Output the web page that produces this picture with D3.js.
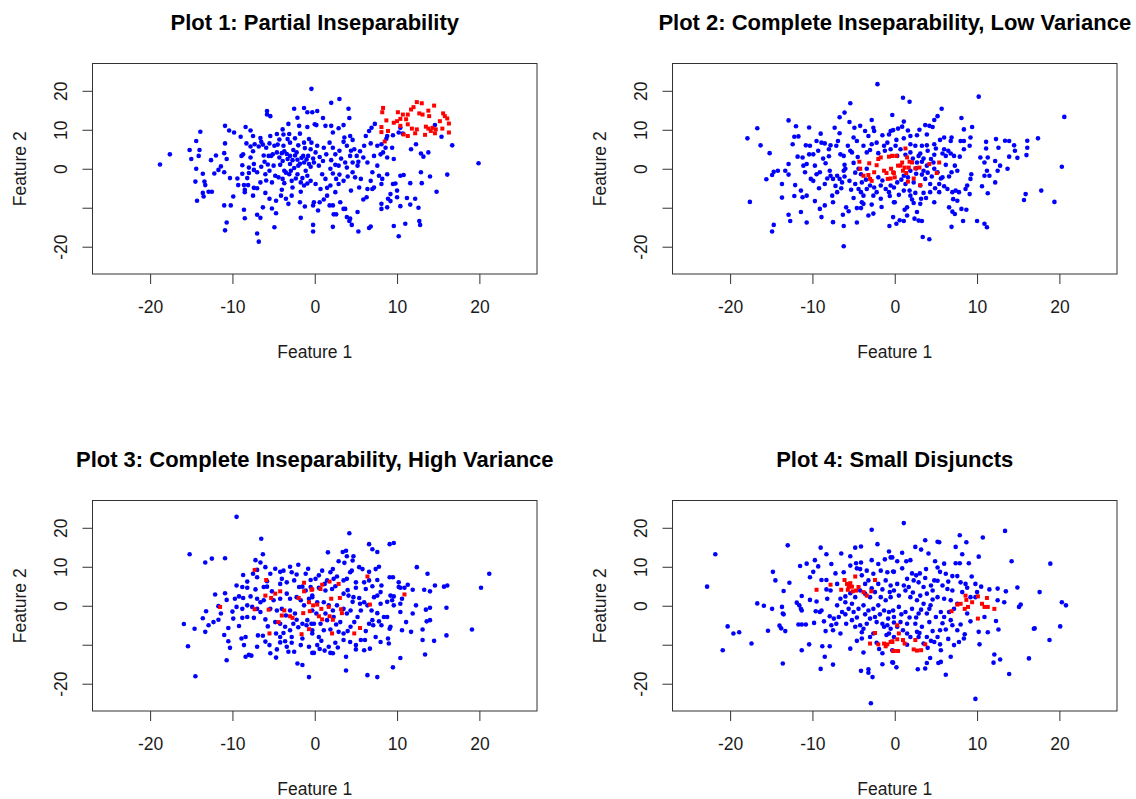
<!doctype html>
<html lang="en">
<head>
<meta charset="utf-8">
<script src="https://d3js.org/d3.v7.min.js"></script>
<style>
  body { margin: 0; background: #fff; }
  svg text { font-family: "Liberation Sans", Arial, sans-serif; fill: #1a1a1a; }
</style>
</head>
<body>
<script>
// values, [feature1, feature2]
var titles = ["Plot 1: Partial Inseparability",
              "Plot 2: Complete Inseparability, Low Variance",
              "Plot 3: Complete Inseparability, High Variance",
              "Plot 4: Small Disjuncts"];
var tickValues = [-20, -10, 0, 10, 20];
var xTickLabels = ["-20", "-10", "0", "10", "20"];
var yTickLabels = ["-20", "", "0", "10", "20"];

var plot1Blue = [[-18.8,1.1],[-17.6,3.7],[-15.2,4.8],[-15.0,2.5],[-14.4,7.1],[-13.9,9.5],[-14.0,4.8],[-14.1,3.3],[-14.4,0],[-14.5,-3.3],[-14.3,-8.2],[-13.4,-3.3],[-13.3,-4.2],[-13.6,-1.3],[-13.6,-6.2],[-13.5,-7.1],[-12.9,-5.9],[-12.5,-5.9],[-12.6,2.2],[-12.0,3.4],[-12.2,-1.2],[-11.7,-0.3],[-11.4,0.6],[-10.9,11],[-10.9,6.5],[-11.0,4.0],[-10.7,2.5],[-11.0,-0.9],[-10.3,-2.4],[-10.4,9.8],[-9.8,9.3],[-11.0,-9.4],[-10.2,-9.4],[-9.9,-7.1],[-10.7,-13.8],[-10.9,-15.8],[-9.3,-4.2],[-9.0,8.2],[-8.9,3.3],[-8.7,3.7],[-8.8,0.9],[-8.8,-1.3],[-8.6,-4.2],[-8.4,10.7],[-8.3,6.5],[-8.5,-5.4],[-8.5,-6.0],[-8.0,-1.1],[-8.2,-2.4],[-8.1,-4.2],[-8.6,-10.5],[-8.5,-12.7],[-7.8,9.8],[-7.5,8.4],[-7.8,5.7],[-7.5,4.5],[-7.8,2.9],[-7.4,1.2],[-7.4,-0.3],[-7.4,-4.9],[-7.5,-6.9],[-7.3,6.3],[-6.8,5.7],[-6.6,7.9],[-6.5,6.9],[-7.0,-0.9],[-6.6,-3.5],[-7.0,-5.0],[-7.0,-11.8],[-6.6,-12.6],[-7.0,-16.6],[-6.8,-18.7],[-6.3,-9.9],[-5.8,14.8],[-5.8,13.9],[-5.4,13.5],[-6.2,3.4],[-5.9,5.4],[-5.6,3.3],[-6.1,1.8],[-5.7,1.1],[-6.0,-1.4],[-5.9,-3.0],[-5.4,8.4],[-5.3,3.3],[-5.1,3.7],[-5.0,0.8],[-5.2,-3.5],[-4.9,5.9],[-4.8,-1.8],[-4.7,-8.2],[-4.7,-11.4],[-4.9,-15.0],[-5.2,-10.2],[-4.6,4.2],[-4.3,2.9],[-4.6,8.9],[-4.3,7.5],[-3.9,10.1],[-3.8,8.8],[-3.8,5.9],[-3.7,4.5],[-3.9,2.0],[-3.7,-0.5],[-3.9,-2.6],[-3.7,-3.7],[-4.0,-5.4],[-4.1,-6.9],[-3.5,-7.7],[-3.2,11.5],[-3.1,8.9],[-3.0,6.7],[-3.0,3.3],[-3.0,1.2],[-3.1,-1.4],[-2.8,-3.1],[-2.7,-4.8],[-2.8,-6.9],[-2.5,15.4],[-2.6,4.8],[-2.5,0.2],[-2.1,13.1],[-1.9,11],[-1.8,9.0],[-2.0,6.0],[-2.2,4.2],[-2.1,2.3],[-2.0,0.8],[-2.1,-1.4],[-1.7,-3.5],[-1.7,-5.9],[-1.8,-8.6],[-1.7,-12.6],[-1.3,15.6],[-1.3,6.7],[-1.4,3.3],[-1.3,1.6],[-1.1,-0.5],[-1.3,-4.3],[-1.2,-9.7],[-0.9,14.5],[-0.9,10.7],[-0.7,7.6],[-0.5,5.0],[-0.8,3.3],[-0.7,1.2],[-0.9,-1.8],[-0.5,-3.1],[-0.4,20.5],[-0.3,14.5],[-0.2,-9.4],[-0.2,-14.4],[-0.2,-16.1],[-0.1,-8.6],[0,11.4],
  [0.3,14.8],[0.2,11.2],[2.0,16.9],[3.0,17.9],[4.1,15.4],[4.2,13.0],[1.0,13.0],[1.3,11],[2.0,11],[2.2,9.3],[2.9,10.4],[3.5,11.2],[-0.4,6.7],[0.3,5.9],[0.1,4.2],[1.1,5.4],[1.4,3.7],[1.8,6.7],[2.2,5.4],[2.5,3.7],[3.0,4.6],[3.5,6.9],[3.9,5.9],[4.3,8.4],[4.6,7.4],[4.8,5.0],[4.3,3.3],[3.7,1.6],[4.6,1.6],[5.1,3.3],[5.2,0.8],[6.0,5.9],[6.2,8.4],[6.6,9.7],[6.9,10.5],[7.3,11.5],[5.9,2.9],[6.4,1.6],[7.2,3.3],[7.6,5.9],[8.0,3.7],[8.3,4.2],[8.6,5.4],[8.8,2.9],[9.4,5.4],[8.8,8.4],[7.6,0.8],[7.8,-1.8],[8.2,-2.6],[8.1,-3.9],[8.8,-1.4],[9.5,-3.9],[9.8,-3.8],[10.0,-5.6],[10.4,-1.8],[10.8,-1.6],[11.6,-3.7],[12.9,-0.9],[13.0,-3.7],[14.0,-2.0],[14.8,-5.9],[16.1,-1.5],[19.9,1.4],[16.7,6.0],[15.4,8.2],[14.6,11.2],[13.8,4.2],[13.2,3.1],[12.9,3.9],[12.3,6.3],[11.7,5.0],[10.7,9.0],[10.2,9.3],[10.4,10.5],[9.5,8.6],[9.2,-6.5],[8.9,-7.7],[8.1,-9.0],[8.1,-10.3],[8.8,-9.9],[9.2,-8.3],[10.0,-7.3],[10.4,-9.6],[11.2,-7.5],[11.6,-9.2],[12.2,-7.7],[12.6,-10.0],[12.7,-13.4],[12.8,-14.4],[11.0,-14.1],[9.6,-14.7],[10.2,-17.3],[6.8,-14.8],[6.6,-15.2],[5.3,-16.1],[4.5,-14.4],[4.2,-13.4],[3.9,-12.4],[4.3,-12.8],[2.6,-11.7],[2.3,-11.7],[2.2,-14.9],[1.8,-9.4],[2.2,-9.4],[3.5,-10.3],[3.7,-10.3],[3.1,-8.6],[5.2,-11.1],[0.4,-10.7],[0.6,-8.6],[1.1,-7.9],[1.5,-6.9],[2.5,-6.0],[1.9,-4.3],[2.9,-3.9],[3.5,-3.1],[4.4,-5.6],[5.4,-4.8],[5.9,-7.9],[6.3,-7.3],[7.0,-5.2],[6.8,-3.1],[7.2,-4.8],[5.6,-2.6],[4.6,-0.9],[3.9,0.3],[2.9,0.8],[1.9,0],[0.9,-1.4],[0.1,-3.9],[0.7,-5.2],[1.3,-2.6],[-0.1,1.6],[0.5,0.8],[8.1,6.3],[8.7,7.7],[7.0,-0.9],[6.4,-5.2],[9.6,2.5],
  [-6.3,6.2],[-5.5,6.5],[-4.5,6.2],[-4.0,4.0],[-3.4,3.8],[-3.3,2.5],[-2.7,2.2],[-2.4,3.4],[-1.8,1.3],[-1.6,2.8],[-1.0,2.4],[-0.5,0.5],[-0.2,2.6],[-3.5,-1.0],[-2.9,-0.5],[-2.3,-2.5],[-1.5,-2.4],[-0.9,-3.8],[-4.4,-2.2],[-5.5,-0.5],[-6.5,0.5],[-4.2,1.0],[-3.3,7.6],[-2.4,7.8],[-1.2,5.3],[0.6,3.0],[1.0,2.0],[2.0,2.2],[2.5,1.0],[3.2,2.6],[3.0,-1.5],[2.2,-1.2],[1.5,-4.9],[2.6,-2.6],[4.0,-2.0],[4.9,-2.2],[5.3,1.8],[5.5,4.5],[4.4,4.6],[3.6,8.0],[6.8,6.5],[-8.0,0.3],[-9.4,-2.5],[-6.0,-6.2],[-5.5,-7.7],[-3.2,-9.0]];

var plot1Red = [[8.3,15.6],[8.2,14.5],[8.7,12.4],[8.9,9.7],[8.1,10.7],[8.1,9.4],[8.5,7.0],[9.6,11.8],[10.1,14.5],[10.7,13.9],[10.0,12.2],[10.4,11.0],[11.3,13.9],[11.1,12.7],[11.3,11.4],[10.8,8.8],[11.3,8.4],[11.7,15.2],[12.0,15.8],[12.4,17.1],[13.0,16.8],[12.7,14.2],[13.1,13.9],[11.8,10.3],[12.4,10.1],[12.2,9.1],[13.5,10.8],[13.4,8.7],[13.8,14.9],[13.9,13.5],[14.5,16.2],[13.8,10.3],[14.1,9.7],[14.6,9.1],[14.3,10.5],[14.7,10.1],[15.2,12.2],[15.6,14.2],[15.8,13.5],[16.1,12.9],[16.3,11.6],[16.3,9.3],[15.5,10.3],[10.4,12.8]];

var plot2Blue = [[-2.1,21.7],[-5.4,16.8],[-6.1,14.4],[-6.7,13.2],[-12.9,12.4],[-12.0,10.9],[-10.4,10.6],[-16.7,10.4],[-17.9,7.8],[-16.3,6.0],[-15.2,4.0],[-17.6,-8.5],[-15.6,-2.7],[-14.9,-1.6],[-14.7,-0.8],[-14.2,-0.5],[-13.3,-0.5],[-12.9,-1.5],[-13.7,-3.9],[-12.9,1.2],[-12.1,-4.2],[-13.7,-7.4],[-12.2,-7.0],[-12.9,-11.8],[-12.7,-13.4],[-14.7,-14.4],[-14.9,-16.1],[-11.4,-11.1],[-10.7,-13.8],[-11.4,-5.6],[-10.7,-6.9],[-11.2,-7.3],[-12.2,8.2],[-11.7,8.3],[-12.4,6.3],[-11.8,3.1],[-11.2,2.9],[-11.1,0.8],[-10.8,6.0],[-10.3,5.9],[-10.4,3.7],[-10.7,1.2],[-10.9,-0.9],[-10.2,-2.6],[-9.9,-3.1],[-9.9,3.7],[-9.3,4.6],[-9.5,7.1],[-8.9,6.7],[-8.5,6.5],[-9.7,0.8],[-9.5,-1.4],[-9.1,-0.9],[-8.7,2.6],[-8.4,1.4],[-8.0,5.0],[-7.8,6.0],[-7.1,5.9],[-6.9,7.1],[-6.7,9.1],[-6.6,3.7],[-6.2,3.3],[-6.1,1.0],[-6.0,0],[-6.2,-0.5],[-5.7,5.9],[-5.4,4.6],[-5.2,4.2],[-5.0,8.0],[-4.9,10.5],[-4.6,7.1],[-4.2,11.0],[-3.6,9.7],[-3.2,8.4],[-2.6,10.5],[-2.5,9.7],[-1.5,8.6],[-0.7,8.8],[-0.3,13.8],[-0.5,9.7],[-0.2,9.9],[-7.9,-0.5],[-8.2,-2.5],[-7.8,-1.8],[-7.5,-2.6],[-7.0,-1.8],[-6.7,-2.6],[-6.4,-3.5],[-6.1,-2.0],[-5.5,-3.1],[-5.3,-5.4],[-4.8,-3.9],[-4.4,-5.2],[-4.1,-6.0],[-3.8,-6.9],[-4.0,-8.6],[-4.6,-10.1],[-4.1,-10.1],[-5.6,-10.9],[-5.9,-9.9],[-6.3,-11.8],[-6.2,-14.7],[-4.6,-13.8],[-6.2,-19.9],[-7.5,-8.6],[-7.5,-13.7],[-8.9,-12.4],[-8.5,-9.4],[-9.1,-10.3],[-9.2,-5.0],[-8.5,-3.9],[-9.7,-8.3],[-7.6,-6.9],[-7.0,-6.0],[-2.6,-11.5],[-2.8,-9.2],[-3.8,-9.0],[-3.4,-5.2],[-3.0,-4.3],[-2.6,-6.9],[-2.2,-6.0],[-1.7,-7.7],[-1.1,-5.2],[-0.7,-6.0],[-0.1,-8.6],[-0.65,-14.7],[-0.2,-12.4],[-3.8,5.9],[-3.4,4.2],[-2.8,6.3],[-2.2,6.7],[-1.3,5.9],[-0.9,6.7],[-0.5,5.0],[-4.4,0],[-4.1,-1.4],[-3.4,0],[-4.0,-3.5],[-1.7,-4.3],[-0.5,-4.3],
  [1.0,18.2],[1.8,17.2],[10.2,18.5],[5.7,15.4],[5.2,13.5],[4.8,12.5],[1.1,12.1],[0.9,10.8],[0.4,10.3],[3.7,11.2],[4.2,11.0],[4.6,10.7],[8.1,13.0],[9.4,10.7],[8.4,10.1],[20.6,13.3],[3.9,8.8],[1.9,8.4],[2.7,8.6],[1.1,7.8],[0.2,7.4],[0.1,5.9],[0.7,5.0],[1.9,6.3],[2.5,5.9],[3.3,5.9],[3.9,6.0],[4.8,6.3],[5.5,7.4],[6.0,8.0],[6.8,7.1],[6.9,8.0],[8.0,7.1],[8.4,7.1],[9.2,8.0],[9.1,5.9],[6.0,5.0],[6.5,4.6],[6.8,3.9],[7.2,3.3],[6.2,3.3],[4.8,3.6],[4.4,2.5],[3.5,2.6],[2.7,1.6],[7.9,3.1],[8.4,5.0],[7.3,0.8],[7.6,-0.5],[6.9,-0.9],[6.6,-2.0],[5.8,-2.2],[5.2,-0.9],[4.8,0],[4.7,1.6],[3.5,-0.5],[3.7,-2.6],[4.3,-3.9],[5.4,-3.9],[5.6,-2.5],[6.4,-5.2],[7.0,-6.0],[7.4,-5.6],[7.8,-6.0],[7.6,-8.2],[7.1,-7.8],[6.6,-9.9],[7.0,-11.0],[7.3,-11.6],[8.1,-10.3],[8.7,-10.5],[8.3,-13.4],[6.9,-14.9],[10.0,-13.4],[10.9,-14.1],[11.2,-15.0],[9.1,-6.5],[8.6,-5.2],[8.8,-4.3],[9.2,-2.6],[9.3,-1.4],[10.6,-4.5],[11.3,-6.3],[10.9,-1.8],[11.2,-0.5],[11.5,-1.8],[10.9,1.6],[11.3,2.9],[10.4,2.9],[11.1,5.2],[11.1,6.9],[12.2,-3.5],[12.5,-0.5],[12.8,0.8],[12.2,2.0],[12.6,5.4],[12.3,7.6],[13.4,7.2],[13.9,7.1],[14.5,6.0],[14.6,4.6],[13.9,3.1],[13.7,0],[14.9,2.8],[16.0,3.5],[16.1,5.4],[16.1,7.2],[17.4,7.8],[20.3,0.5],[17.8,-5.6],[15.9,-6.5],[15.7,-8.0],[19.4,-8.5],[3.4,-17.5],[4.2,-18.1],[3.3,-13.4],[2.9,-13.3],[2.4,-12.8],[1.5,-12],[1.1,-13.4],[0.6,-13.2],[0.2,-14.1],[1.5,-9.9],[2.1,-7.9],[2.7,-11.1],[3.1,-9.0],[3.2,-7.7],[0,-8.6],[0.5,-6.7],[1.1,-5.6],[1.8,-5.6],[1.9,-6.9],[2.5,-6.2],[3.5,-6.2],[4.3,-6.0],[4.8,-8.6],[5.4,-6.0],[0.3,-3.5],[-0.1,-4.8],[1.3,-3.9],[2.3,-3.5],[3.1,-4.3],[0.3,3.3],[1.3,3.6],[1.9,4.2],[2.9,3.3],[3.3,1.8],[3.9,0.8],[2.6,0.1],[1.9,-0.5],[1.1,-1.8],
  [-2.0,-2.2],[-1.5,-3.0],[-2.5,-4.8],[-3.5,-2.8],[-4.8,-1.0],[-5.0,1.5],[-4.5,3.0],[-3.0,4.8],[-2.0,4.0],[-1.2,4.6],[-0.6,-7.0],[0.8,-2.8],[1.6,-2.2],[2.6,-1.3],[3.3,-1.5],[4.0,-1.0],[4.5,-2.0],[2.2,2.6],[3.1,3.9],[4.0,4.6],[5.0,5.2],[5.8,3.9],[6.2,1.0],[6.0,-4.5],[4.9,-5.0],[3.8,-7.5],[2.3,-8.8],[1.2,-10.5],[-1.6,-9.8],[-3.2,-12.0],[-5.0,-7.5],[-6.5,-5.0],[-7.2,-4.4],[-8.0,3.2],[-9.0,9.0],[-7.3,10.5],[-5.5,12.0],[-2.8,12.5],[1.6,9.8],[3.0,10.0]];

var plot2Red = [[-4.3,1.8],[-4.2,0],[-3.1,1.4],[-3.2,-1.6],[-3.0,-2.6],[-2.5,-0.9],[-2.2,0.9],[-2.0,2.5],[-1.7,2.9],[-1.3,-0.5],[-1.0,-1.1],[-0.85,-2.6],[-0.5,-2.5],[-0.7,3.1],[-0.3,3.3],[-0.45,0],[-0.1,-1.1],[-3.8,-1.8],[-2.8,-3.1],
  [0.2,3.3],[1.3,5.2],[1.5,2.9],[1.8,1.8],[0.9,1.6],[0.7,0.8],[1.2,0.3],[1.0,-0.5],[1.4,-1.1],[0.4,0.8],[1.7,0.3],[2.1,1.6],[2.5,0.1],[3.0,0.3],[4.2,1.2],[5.4,1.6],[-0.3,3.3],[-0.2,-0.9],[1.6,-3.3],[2.3,-2.5],[3.1,-4.2],[5.1,-1.1],[0,-2.2]];

var plot3Blue = [[-9.5,22.8],[-6.5,17.2],[-6.3,13.2],[-15.2,13.2],[-13.3,11.1],[-12.5,12.1],[-10.9,12.2],[-7.2,11.7],[-6.6,11.1],[-6.0,9.9],[-7.0,9.2],[-7.5,8.2],[-7.0,7.3],[-8.7,7.9],[-8.2,6.2],[-9.5,5.2],[-8.8,4.8],[-8.2,4.6],[-7.2,4.2],[-6.2,4.8],[-5.8,4.9],[-12.1,2.9],[-10.9,3.2],[-10.7,1.5],[-9.7,1.8],[-9.2,2.4],[-8.7,2.0],[-7.8,2.4],[-7.0,1.8],[-6.6,0.9],[-6.2,1.4],[-9.5,-0.3],[-8.8,-0.8],[-8.2,0.1],[-7.6,-0.3],[-7.0,-0.8],[-13.2,-1.4],[-11.7,-0.1],[-11.4,-2.0],[-13.6,-3.2],[-12.3,-4.2],[-12.9,-5.0],[-11.7,-3.6],[-15.9,-4.7],[-14.6,-5.9],[-13.3,-6.7],[-15.4,-10.4],[-14.5,-18.1],[-10.5,-5.7],[-9.9,-3.3],[-8.8,-3.1],[-8.2,-2.9],[-7.4,-3.1],[-10.5,-9.1],[-10.3,-10.8],[-10.7,-14.0],[-8.9,-8.4],[-8.6,-10.1],[-8.4,-8.0],[-8.4,-13.1],[-8.0,-12.6],[-7.7,-12.8],[-7.0,-10.5],[-6.9,-7.6],[-6.3,-7.7],[-5.7,-5.3],[-5.5,-10.1],[-5.4,-12.2],[-4.7,-13.3],[-4.6,-11.2],[-4.7,-7.1],[-4.2,-8.0],[-4.2,-9.4],[-3.6,-9.1],[-3.4,-10.5],[-3.2,-11.8],[-2.5,-11.8],[-2.1,-14.8],[-1.5,-15.2],[-0.7,-18.3],[-1.7,-10.1],[-1.5,-8.4],[-0.7,-10.5],[-0.3,-12.1],[-5.4,8.2],[-4.2,8.7],[-3.8,9.0],[-3.0,10.0],[-2.8,8.6],[-2.2,8.0],[-1.1,8.2],[-0.5,6.6],[-4.0,6.9],[-4.2,5.6],[-3.4,6.0],[-2.5,6.5],[-1.9,4.8],[-1.5,4.9],[-1.1,3.9],[-0.5,4.8],[-0.3,2.6],[-5.2,3.7],[-5.0,1.4],[-4.2,1.8],[-3.4,3.1],[-3.0,1.8],[-2.2,2.2],[-1.7,1.4],[-1.3,0.1],[-0.7,1.8],[-5.4,-0.8],[-4.6,-1.2],[-4.0,-0.8],[-3.0,-1.2],[-2.4,-2.0],[-2.2,-3.6],[-1.5,-4.6],[-0.9,-3.7],[-0.4,-4.6],[-0.3,-6.3],[-4.8,-4.2],[-4.2,-4.6],[-3.6,-5.4],[-3.0,-6.3],[-2.6,-4.6],
  [4.2,18.6],[6.6,15.8],[7.0,14.5],[7.6,13.8],[9.1,15.8],[9.6,16.1],[1.6,13.7],[3.4,13.8],[3.8,14.1],[3.9,12.7],[4.7,12.7],[4.6,11.6],[2.9,11.4],[3.6,11.0],[0.9,9.0],[1.9,8.6],[2.2,9.4],[4.3,8.6],[4.5,9.0],[5.4,9.9],[5.8,9.4],[6.6,8.7],[7.4,9.4],[7.8,10.0],[9.1,7.3],[9.5,7.3],[12.4,9.9],[13.7,8.2],[21.2,8.2],[0.1,6.9],[1.5,6.5],[2.3,6.9],[2.7,7.5],[3.5,6.5],[3.9,6.9],[5.0,4.6],[6.0,6.0],[6.2,4.3],[6.6,6.5],[7.6,6.6],[8.1,5.2],[10.2,6.0],[10.4,4.6],[10.9,4.6],[11.3,5.4],[11.9,4.1],[13.3,4.1],[14.0,3.7],[14.6,5.2],[15.7,4.9],[16.1,5.2],[20.2,4.6],[0.5,4.6],[1.3,3.9],[2.1,4.3],[3.5,3.1],[4.1,2.6],[4.7,2.2],[5.4,2.0],[7.2,2.2],[7.6,2.6],[8.0,3.5],[9.2,2.6],[9.6,2.4],[10.2,4.8],[9.4,1.4],[9.6,0.1],[10.4,0.5],[10.6,1.8],[12.3,0.1],[13.5,-1.0],[14.0,-0.5],[16.0,-0.5],[10.4,-1.6],[11.9,-2.0],[11.1,-4.2],[10.6,-6.3],[11.7,-6.7],[13.1,-6.1],[13.6,-4.0],[14.0,-3.7],[16.0,-7.6],[19.1,-6.1],[14.5,-9.0],[13.1,-8.8],[13.4,-12.5],[10.4,-13.4],[9.5,-15.8],[6.4,-17.8],[7.6,-18.3],[3.8,-16.6],[3.8,-13.1],[0.3,-10.1],[-0.1,-12.1],[0.6,-11.1],[1.2,-11.5],[1.7,-10.5],[1.9,-12.1],[2.2,-12.2],[2.8,-10.7],[3.5,-8.8],[4.3,-9.3],[5.0,-10.1],[5.0,-11.2],[6.0,-11.4],[6.7,-11.0],[5.6,-8.8],[6.1,-8.8],[7.4,-8.0],[8.0,-9.3],[9.0,-9.7],[8.9,-8.4],[9.1,-5.9],[9.2,-5.4],[8.1,-5.0],[7.1,-5.0],[6.6,-4.6],[7.0,-3.7],[8.4,-2.9],[8.8,-2.9],[7.6,-1.9],[6.9,-1.2],[6.4,0.1],[6.0,0.9],[5.6,-1.2],[5.2,-2.9],[4.8,-4.2],[4.35,-5.4],[3.5,-7.1],[2.9,-6.7],[1.9,-6.1],[1.1,-6.3],[0.5,-8.0],[0.7,-4.6],[1.5,-3.7],[2.3,-2.9],[3.1,-4.2],[3.9,-2.0],[4.35,-1.2],[3.5,-0.8],[2.7,0.1],[1.7,0.1],[1.1,0.9],[0.3,0.9],[-0.3,2.2],[-0.3,-1.2],[-0.1,-4.6],[-0.3,-7.1],
  [-3.5,-2.5],[-2.0,-5.5],[-1.0,-5.0],[-2.8,-8.0],[-3.8,-7.0],[-6.0,-3.5],[-6.6,-1.6],[-5.8,6.3],[-4.8,9.5],[-2.0,10.5],[-0.8,9.5],[0.5,7.8],[1.2,5.6],[2.5,5.0],[4.0,4.0],[5.0,6.0],[5.5,0.5],[4.6,1.0],[2.2,-1.2],[2.6,-4.8],[0.2,-2.0],[1.3,-2.0],[4.0,-6.5],[6.2,-6.5],[7.8,-4.0],[8.0,0.5],[8.8,1.0],[7.0,5.0],[-9.2,-5.2],[-10.0,-1.5],[-11.0,-7.5],[-6.0,-9.2],[-2.8,-9.5],[0.8,-9.0],[2.5,-9.5]];

var plot3Red = [[-7.3,9.2],[-5.9,6.6],[-6.0,2.6],[-5.3,2.0],[-4.8,3.1],[-4.2,3.7],[-11.5,-0.3],[-7.3,-0.9],[-5.6,-1.0],[-3.7,-1.2],[-4.0,-2.5],[-4.4,-4.2],[-5.5,-7.1],[-3.0,-2.7],[-2.7,-3.1],[-1.3,5.9],[-1.3,3.7],[-1.95,2.0],[-0.7,0.9],[-0.6,-1.4],[-1.4,-1.9],[-1.6,-7.3],[-0.7,-6.0],[-0.4,4.1],[-0.2,0.1],
  [6.4,7.5],[10.9,2.9],[0.9,5.4],[1.8,6.2],[2.9,5.6],[0.7,4.3],[-0.3,4.2],[2.0,1.8],[3.05,2.0],[0.3,0.3],[0.8,-0.8],[1.7,-0.3],[3.2,-0.9],[3.3,-1.9],[6.7,0.3],[0.5,-2.7],[0.9,-3.5],[1.8,-2.7],[2.2,-3.6],[5.5,-5.7],[4.8,-7.1],[2.1,-7.1]];

var plot4Blue = [[-2.8,19.5],[-2.1,15.8],[-0.7,13.9],[-4.1,15.2],[-4.8,14.9],[-9.0,14.9],[-13.0,15.5],[-21.8,13.2],[-22.8,4.9],[-8.3,13.2],[-6.5,13.4],[-5.4,12.7],[-4.7,10.9],[-4.1,11.1],[-2.8,11.7],[-2.0,10.7],[-1.2,11.9],[-0.5,12.4],[-9.7,11.7],[-9.3,10.1],[-10.7,10.8],[-11.5,10.2],[-7.7,10.7],[-9.9,8.7],[-10.3,7.3],[-7.2,8.3],[-6.2,8.6],[-5.4,10.3],[-4.6,9.6],[-4.2,9.4],[-3.4,9.0],[-2.6,8.2],[-1.7,9.0],[-0.9,8.6],[-0.2,8.8],[-14.8,8.7],[-14.5,6.5],[-12.8,5.9],[-13.5,3.8],[-16.7,0.6],[-15.9,0],[-14.9,-0.8],[-13.7,-0.3],[-13.6,-2.0],[-13.5,-2.2],[-11.9,0.8],[-11.6,0.1],[-11.4,-0.8],[-11.3,-1.2],[-11.3,2.5],[-10.3,1.5],[-9.5,1.1],[-9.6,-1.4],[-8.9,6.6],[-8.3,6.6],[-8.3,4.2],[-8.2,1.8],[-9.1,-1.6],[-8.9,-1.2],[-8.6,-4.0],[-7.9,-2.7],[-7.4,-3.3],[-8.4,-6.5],[-7.5,-6.3],[-6.6,-7.1],[-11.7,-4.8],[-11.3,-4.8],[-10.8,-4.8],[-9.8,-4.4],[-14.0,-5.1],[-13.8,-5.8],[-13.3,-6.5],[-15.4,-6.4],[-17.4,-9.7],[-18.9,-6.8],[-19.6,-7.1],[-20.3,-5.3],[-20.9,-11.4],[-13.6,-14.8],[-10.4,-9.9],[-11.3,-11.4],[-8.8,-10.4],[-7.9,-10.4],[-8.5,-13.1],[-9.0,-16.2],[-7.5,-15.1],[-5.4,-11.0],[-4.1,-16.7],[-3.2,-16.3],[-3.2,-17.2],[-2.7,-18.3],[-2.9,-25.0],[-2.2,-9.5],[-1.9,-11.1],[-1.5,-12.2],[-1.5,-15.0],[-0.3,-14.5],[-4.6,-9.0],[-4.0,-8.4],[-3.0,-8.0],[-2.6,-7.1],[-5.9,-4.6],[-5.2,-3.7],[-4.8,-5.4],[-4.2,-5.0],[-3.8,-5.9],[-3.4,-4.6],[-3.0,-3.3],[-2.4,-2.9],[-1.5,-4.6],[-1.3,-5.4],[-0.9,-5.0],[-0.5,-5.9],[-0.7,-7.1],[-7.0,0.1],[-6.6,1.8],[-6.0,2.4],[-5.4,3.2],[-4.8,2.2],[-4.2,3.9],[-3.6,3.1],[-3.0,2.2],[-2.4,3.5],[-1.7,2.2],[-1.1,1.4],[-0.5,2.2],[-6.4,-1.6],[-5.6,-0.8],[-5.0,-1.6],[-4.4,-0.8],[-3.8,0.1],[-3.2,-1.2],[-2.6,-0.8],[-2.0,0.1],[-1.3,-1.2],[-0.7,-1.6],[-0.2,-1.2],[-7.7,-5.0],[-7.1,-4.6],[-6.8,-2.9],[-2.0,5.6],[-1.1,6.5],[-0.5,5.2],[-3.2,6.5],[-7.0,5.6],[-7.8,3.9],
  [1.1,21.2],[13.4,19.2],[7.9,18.1],[10.7,17.5],[8.7,16.3],[7.4,15.1],[5.2,16.4],[5.4,16.3],[3.7,16.8],[2.5,15.1],[3.2,14.4],[4.1,13.4],[0.9,13.6],[-0.3,12.4],[0.3,11.4],[1.4,11.4],[1.9,11.7],[0.9,9.6],[-0.1,8.7],[4.9,11.4],[8.2,13.2],[7.4,10.9],[7.9,10.9],[9.0,10.9],[10.2,12.6],[14.2,11.4],[18.9,10.8],[2.1,8.3],[3.05,8.3],[3.7,7.1],[5.5,8.7],[6.2,8.2],[7.0,7.6],[7.6,7.6],[9.35,7.5],[8.6,5.6],[10.5,4.9],[11.5,4.2],[12.5,4.4],[13.5,3.7],[14.9,4.7],[17.6,3.5],[20.3,0.9],[20.8,0.1],[10.0,3.5],[9.8,2.2],[9.2,2.2],[12.5,1.4],[13.3,0.9],[15.1,-0.3],[15.3,0.3],[10.9,-2.9],[12.3,-3.9],[12.6,-6.1],[11.3,-6.8],[10.2,-6.7],[10.3,-9.9],[16.9,-5.9],[17.0,-5.8],[20.1,-5.3],[18.8,-8.8],[16.3,-13.5],[13.9,-17.5],[12.1,-12.5],[12.0,-14.6],[12.8,-13.8],[9.8,-23.9],[6.2,-17.7],[6.8,-13.1],[5.6,-14.4],[5.3,-14.7],[4.3,-13.4],[3.9,-14.7],[3.7,-16.1],[2.8,-16.3],[0.2,-15.8],[-0.2,-14.6],[5.6,-11.4],[7.2,-10.1],[7.8,-9.3],[8.4,-8.4],[8.5,-7.3],[7.6,-6.3],[7.0,-5.0],[6.8,-3.7],[6.0,-2.9],[6.2,-6.1],[5.5,-6.3],[5.2,-8.0],[4.8,-9.3],[5.5,-9.9],[4.4,-9.0],[3.9,-8.0],[3.5,-9.7],[2.9,-8.0],[2.7,-6.7],[1.9,-8.0],[1.5,-7.1],[1.0,-6.3],[0.3,-5.4],[-0.1,-8.0],[-0.3,-11.4],[0.7,-4.2],[1.5,-4.6],[2.5,-4.6],[3.3,-5.4],[4.2,-4.2],[5.0,-2.9],[5.6,-1.6],[6.6,-1.6],[7.2,-0.8],[7.6,0.5],[6.8,1.4],[6.0,1.8],[5.2,2.2],[4.6,3.9],[3.9,3.1],[3.5,4.8],[2.9,6.0],[2.3,6.5],[1.5,6.9],[1.1,5.2],[0.3,5.6],[-0.1,3.9],[0.5,2.6],[1.3,3.9],[1.9,2.2],[2.7,1.4],[3.5,0.5],[4.35,0.1],[2.1,-0.8],[1.3,-1.6],[0.5,-0.3],[2.9,-2.0],[3.9,-2.0],[-0.1,-2.9],[4.8,6.5],[5.8,5.2],[6.4,4.3],[7.0,3.9],[8.2,3.5],
  [-3.6,5.6],[-4.0,7.8],[-2.8,4.5],[-1.5,4.2],[-0.6,3.5],[-1.8,-2.2],[-2.2,-4.2],[-3.6,-2.2],[-4.6,-3.0],[-6.0,-2.2],[-6.0,0.9],[-5.2,0.5],[-0.8,-3.3],[-0.1,-4.3],[0.8,-2.2],[1.8,-3.0],[2.6,-3.0],[3.2,-1.0],[4.2,-0.8],[4.6,1.6],[3.1,2.6],[2.2,3.4],[1.7,4.8],[2.6,7.8],[3.8,9.4],[5.2,9.8],[6.0,10.8],[4.4,5.2],[5.2,6.4],[6.5,6.2],[8.0,6.0],[8.8,4.6],[9.8,5.6],[8.8,-2.0],[9.2,-4.0],[8.0,-4.8],[5.8,-4.5],[4.6,-6.5],[3.0,-7.0],[1.5,-10.0],[4.0,-10.8],[6.5,-8.5],[-3.8,-12.0],[-1.0,-7.5],[-4.0,-6.8]];

var plot4Red = [[-9.5,4.1],[-7.8,5.4],[-6.5,4.1],[-6.1,6.6],[-5.8,5.6],[-5.6,4.8],[-5.4,5.8],[-5.2,4.9],[-5.1,3.7],[-4.8,7.5],[-4.7,3.9],[-4.4,4.8],[-3.8,3.5],[-3.4,2.6],[-2.85,3.7],[-2.4,6.6],[-5.7,4.1],[-2.4,-7.0],[-3.0,-9.7],[-2.0,-9.9],[-1.3,-9.7],[-0.9,-9.9],[-0.5,-9.3],[-0.3,-9.1],[-0.2,-11.6],[-1.1,-10.4],
  [6.9,-1.4],[7.6,0.3],[8.0,0.5],[8.6,2.6],[8.7,1.5],[8.5,-0.8],[8.9,-0.3],[9.4,0.9],[10.1,2.4],[10.1,-3.3],[10.6,0.5],[10.9,-0.3],[11.2,2.0],[11.3,-0.3],[12.1,-0.8],[0.3,-5.0],[0.5,-7.1],[-0.3,-9.3],[0.3,-8.6],[1.0,-8.8],[1.2,-9.7],[2.5,-8.8],[2.3,-11.2],[2.7,-11.5],[3.2,-11.4],[3.7,-9.9],[-0.1,-11.6],[0.4,-11.6]];

var w = 1136, h = 799;
var boxW = 444.5, boxH = 210.5;
var colLeft = [92.5, 672.5], rowTop = [63.5, 500.5];

var panels = [
  { title: titles[0], blue: plot1Blue, red: plot1Red, col: 0, row: 0 },
  { title: titles[1], blue: plot2Blue, red: plot2Red, col: 1, row: 0 },
  { title: titles[2], blue: plot3Blue, red: plot3Red, col: 0, row: 1 },
  { title: titles[3], blue: plot4Blue, red: plot4Red, col: 1, row: 1 }
];

var svg = d3.select("body").append("svg")
  .attr("width", w)
  .attr("height", h);

panels.forEach(function(p) {
  var g = svg.append("g")
    .attr("transform", "translate(" + colLeft[p.col] + "," + rowTop[p.row] + ")");

  var x = d3.scaleLinear().domain([-27, 27]).range([0, boxW]);
  var y = d3.scaleLinear().domain([-27, 27]).range([boxH, 0]);

  // x axis
  var xa = g.append("g")
    .attr("transform", "translate(0," + boxH + ")")
    .call(d3.axisBottom(x).tickValues(tickValues).tickSizeOuter(0).tickSize(10)
      .tickFormat(function(d, i) { return xTickLabels[i]; }));
  xa.select(".domain").remove();
  xa.selectAll("line").attr("stroke", "#333");
  xa.selectAll("text")
    .attr("y", 39).attr("dy", 0)
    .style("font-size", "17.5px").style("fill", "#1a1a1a");

  // y axis, labels turned like R
  var ya = g.append("g")
    .call(d3.axisLeft(y).tickValues(tickValues).tickSizeOuter(0).tickSize(10)
      .tickFormat(function(d, i) { return yTickLabels[i]; }));
  ya.select(".domain").remove();
  ya.selectAll("line").attr("stroke", "#333");
  ya.selectAll("text")
    .attr("x", 0).attr("dy", 0)
    .attr("text-anchor", "middle")
    .attr("transform", "translate(-26,0) rotate(-90)")
    .style("font-size", "17.5px").style("fill", "#1a1a1a");

  // points
  g.selectAll("circle.blue")
    .data(p.blue)
    .enter().append("circle")
      .attr("class", "blue")
      .attr("cx", function(d) { return x(d[0]); })
      .attr("cy", function(d) { return y(d[1]); })
      .attr("r", 2.3)
      .style("fill", "#0000ff");

  g.selectAll("rect.red")
    .data(p.red)
    .enter().append("rect")
      .attr("class", "red")
      .attr("x", function(d) { return x(d[0]) - 2; })
      .attr("y", function(d) { return y(d[1]) - 2; })
      .attr("width", 4)
      .attr("height", 4)
      .style("fill", "#ff0000");

  // frame
  g.append("rect")
    .attr("width", boxW)
    .attr("height", boxH)
    .attr("fill", "none")
    .attr("stroke", "#333")
    .attr("stroke-width", 1);

  g.append("text")
    .attr("x", boxW / 2)
    .attr("y", -34)
    .attr("text-anchor", "middle")
    .style("font-size", "22px")
    .style("font-weight", "bold")
    .style("fill", "#000")
    .text(p.title);

  g.append("text")
    .attr("x", boxW / 2)
    .attr("y", boxH + 84)
    .attr("text-anchor", "middle")
    .style("font-size", "17.5px")
    .text("Feature 1");

  g.append("text")
    .attr("transform", "translate(-67," + (boxH / 2) + ") rotate(-90)")
    .attr("text-anchor", "middle")
    .style("font-size", "17.5px")
    .text("Feature 2");
});
</script>
</body>
</html>
